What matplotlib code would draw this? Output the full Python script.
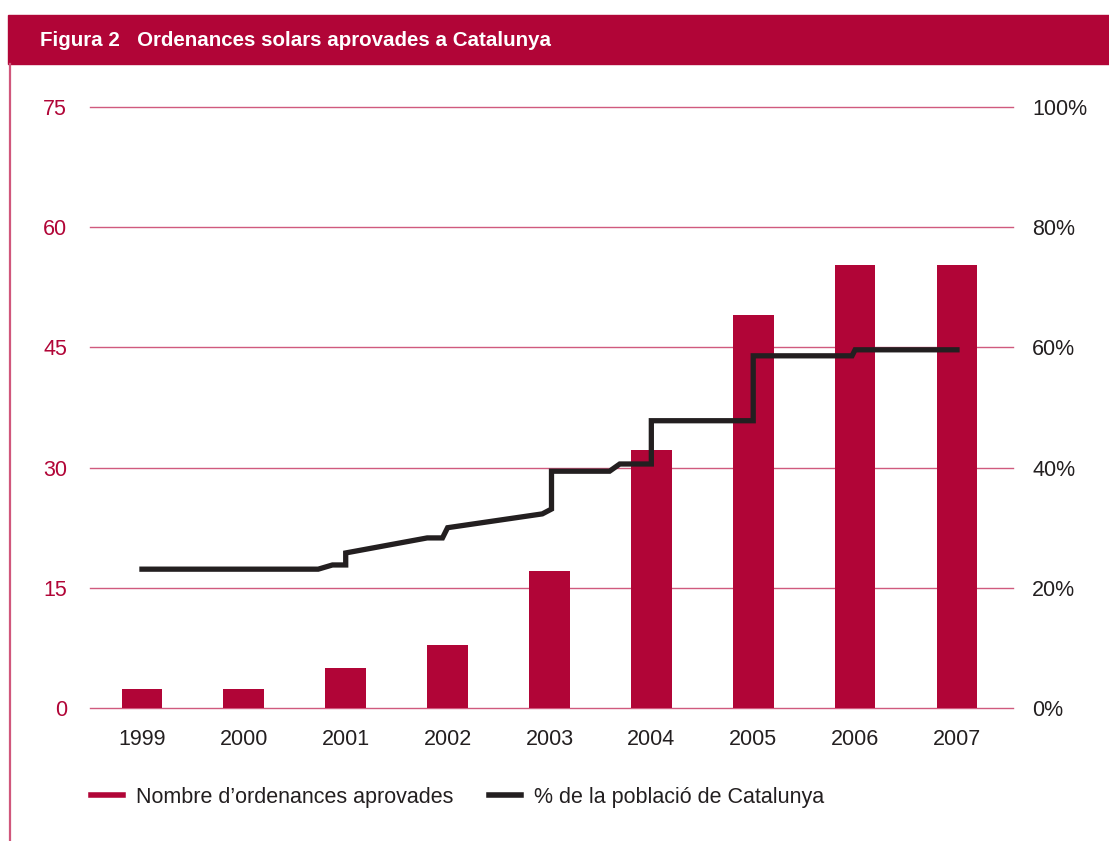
import matplotlib
matplotlib.use("Agg")
import matplotlib.pyplot as plt
from matplotlib.patches import Rectangle
from matplotlib.lines import Line2D

plt.rcParams['font.family'] = ['Liberation Sans', 'DejaVu Sans']

# ---- data ----
years = ["1999", "2000", "2001", "2002", "2003", "2004", "2005", "2006", "2007"]
ordenances = [2.4, 2.4, 5.0, 7.9, 17.1, 32.2, 49.0, 55.3, 55.3]
pct_years = [1999.0, 2000.73, 2000.87, 2001.0, 2001.0, 2001.8, 2001.95, 2002.0,
             2002.93, 2003.02, 2003.02, 2003.59, 2003.69, 2004.0, 2004.0,
             2005.0, 2005.0, 2005.97, 2006.0, 2007.0]
pct_values = [23.1, 23.1, 23.8, 23.8, 25.8, 28.3, 28.3, 30.0,
              32.3, 33.1, 39.4, 39.4, 40.6, 40.6, 47.8,
              47.8, 58.6, 58.6, 59.6, 59.6]
left_ticks = [0, 15, 30, 45, 60, 75]
right_ticks = [0, 20, 40, 60, 80, 100]
right_labels = ["0%", "20%", "40%", "60%", "80%", "100%"]
title = "Figura 2   Ordenances solars aprovades a Catalunya"
legend_labels = ["Nombre d\u2019ordenances aprovades", "% de la poblaci\u00f3 de Catalunya"]

CRIMSON = "#b10537"
DARK = "#231f20"
GRID = "#d05a7e"
FS = 15.5

W, H = 1109, 841
fig = plt.figure(figsize=(W / 100, H / 100), dpi=100)

# header band
fig.patches.append(Rectangle((8 / W, 1 - 64 / H), 1 - 8 / W, 49 / H,
                             transform=fig.transFigure, color=CRIMSON, zorder=0))
fig.text(40 / W, 1 - 40 / H, title, color="white", fontsize=14.8,
         fontweight="bold", va="center", ha="left")
# left vertical rule
fig.lines.append(Line2D([10 / W, 10 / W], [0, 1 - 64 / H], transform=fig.transFigure,
                        color="#d0577c", lw=1.6))

ax = fig.add_axes([90 / W, 1 - 708 / H, (1013 - 90) / W, (708 - 107) / H])
x = list(range(len(years)))
ax.bar(x, ordenances, width=0.4, color=CRIMSON, zorder=3)
ax.set_xlim(-0.51, 8.55)
ax.set_ylim(0, 75)
ax.set_yticks(left_ticks)
ax.set_yticklabels([str(t) for t in left_ticks])
ax.set_xticks(x)
ax.set_xticklabels(years)
ax.tick_params(axis="y", length=0, pad=16.5, labelsize=FS, labelcolor=CRIMSON)
ax.tick_params(axis="x", length=0, pad=15, labelsize=FS, labelcolor=DARK)
for t in left_ticks:
    ax.axhline(t, color=GRID, lw=1.0, zorder=1, clip_on=False)
for s in ax.spines.values():
    s.set_visible(False)

ax2 = ax.twinx()
ax2.plot([y - 1999 for y in pct_years], pct_values, color=DARK, lw=3.8,
         solid_joinstyle="miter", zorder=4)
ax2.set_ylim(0, 100)
ax2.set_yticks(right_ticks)
ax2.set_yticklabels(right_labels)
ax2.tick_params(axis="y", length=0, pad=13.7, labelsize=FS, labelcolor=DARK)
for s in ax2.spines.values():
    s.set_visible(False)

handles = [Line2D([], [], color=CRIMSON, lw=4), Line2D([], [], color=DARK, lw=4)]
fig.legend(handles, legend_labels, loc="center left",
           bbox_to_anchor=(91 / W, 1 - 797 / H), ncol=2, frameon=False,
           fontsize=FS, handlelength=1.48, handletextpad=0.6, columnspacing=1.67,
           borderpad=0, borderaxespad=0, labelcolor=DARK)

fig.savefig("out.png", dpi=100)
